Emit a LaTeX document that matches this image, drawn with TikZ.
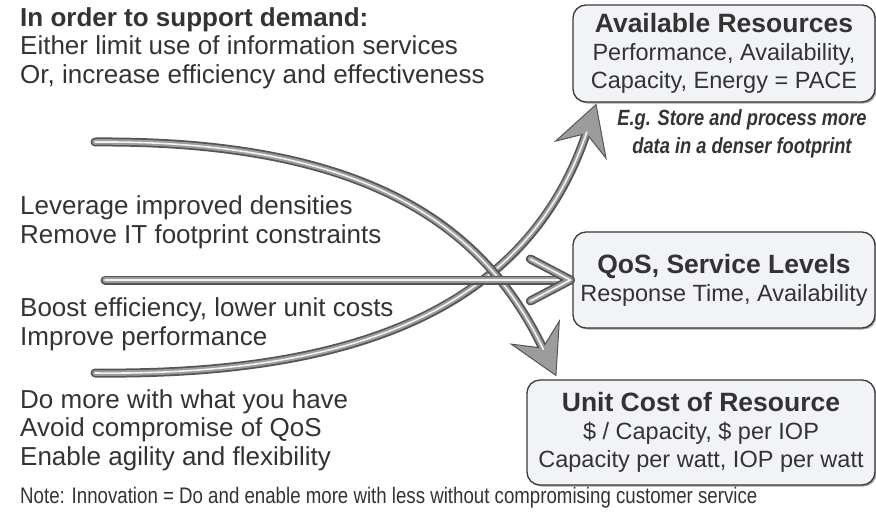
\documentclass[tikz,border=0pt]{standalone}
\usepackage{fontspec}
\setmainfont{Liberation Sans}
\newfontfamily\narrowfont{Liberation Sans}[FakeStretch=0.83]
\usetikzlibrary{arrows.meta,positioning,shadows}

\definecolor{inkgray}{HTML}{333333}
\definecolor{boxfill}{HTML}{F1F3F6}
\definecolor{boxline}{HTML}{3A3A3A}
\definecolor{tubedark}{HTML}{555555}
\definecolor{tubemid}{HTML}{9C9C9C}
\definecolor{tubelight}{HTML}{F2F2F2}

\tikzset{tubehead/.tip={Stealth[length=50pt,width=56pt,inset=18pt,fill=tubemid,line width=1pt]}}

\begin{document}
\begin{tikzpicture}[x=1pt, y=-1pt,
  lefttext/.style={anchor=base west, align=left, inner sep=0pt, text=inkgray, font=\fontsize{26}{28.5}\selectfont},
  notetext/.style={anchor=base west, inner sep=0pt, text=inkgray, font=\narrowfont\fontsize{22.5}{27}\selectfont},
  exampletext/.style={align=center, inner sep=0pt, text=inkgray, font=\narrowfont\bfseries\itshape\fontsize{22}{28}\selectfont},
  resbox/.style={draw=boxline, line width=1.3pt, rounded corners=13pt, fill=boxfill, text=inkgray, align=center, inner sep=0pt, font=\fontsize{23.5}{28}\selectfont, drop shadow={shadow xshift=1.5pt, shadow yshift=-1.5pt, fill=black!60, opacity=0.6}},
  tube/.style={line width=9pt, draw=tubedark, line cap=round, line join=round, postaction={draw=tubemid, line width=5.5pt, arrows=-, shorten >=#1}, postaction={draw=tubelight, line width=1.6pt, arrows=-, shorten >=#1}}
]
  \useasboundingbox (0,0) rectangle (876,517);

  % left column (base = last line)
  \node[lefttext] (demand) at (20,83) {\textbf{In order to support demand:}\\Either limit use of information services\\Or, increase efficiency and effectiveness};
  \node[lefttext] (density) at (20,243) {Leverage improved densities\\Remove IT footprint constraints};
  \node[lefttext] (boost) at (20,345) {Boost efficiency, lower unit costs\\Improve performance};
  \node[lefttext] (domore) at (20,465) {Do more with what you have\\Avoid compromise of QoS\\Enable agility and flexibility};
  \node[notetext] (note) at (20,503) {Note: Innovation = Do and enable more with less without compromising customer service};

  % result boxes
  \node[resbox, minimum width=302pt, minimum height=97pt] (avail) at (724,53.5) {{\fontsize{26.5}{30}\selectfont\bfseries Available Resources}\\Performance, Availability,\\Capacity, Energy = PACE};
  \node[exampletext] (example) at (742,134) {E.g. Store and process more\\data in a denser footprint};
  \node[resbox, minimum width=302pt, minimum height=96pt] (qos) at (724,280) {{\fontsize{26.5}{30}\selectfont\bfseries QoS, Service Levels}\\Response Time, Availability};
  \node[resbox, minimum width=348pt, minimum height=105pt] (unit) at (701,432.5) {{\fontsize{26.5}{30}\selectfont\bfseries Unit Cost of Resource}\\\$ / Capacity, \$ per IOP\\Capacity per watt, IOP per watt};

  % arrows
  \coordinate (s1) at (95,142);
  \coordinate (s2) at (105,280);
  \coordinate (s3) at (95,373);

  \draw[tube=30pt, -{tubehead}] (s3) .. controls (370,376) and (530,300) .. ([xshift=24pt,yshift=-1pt]avail.south west);
  \draw[tube=30pt, -{tubehead}] (s1) .. controls (370,140) and (485,228) .. ([xshift=30pt,yshift=3pt]unit.north west);
  \draw[tube=0pt] (s2) -- ([xshift=-2pt]qos.west);
  \draw[tube=0pt] ([shift={(-42,-21)}]qos.west) -- ([xshift=-2pt]qos.west) -- ([shift={(-42,21)}]qos.west);
\end{tikzpicture}
\end{document}
